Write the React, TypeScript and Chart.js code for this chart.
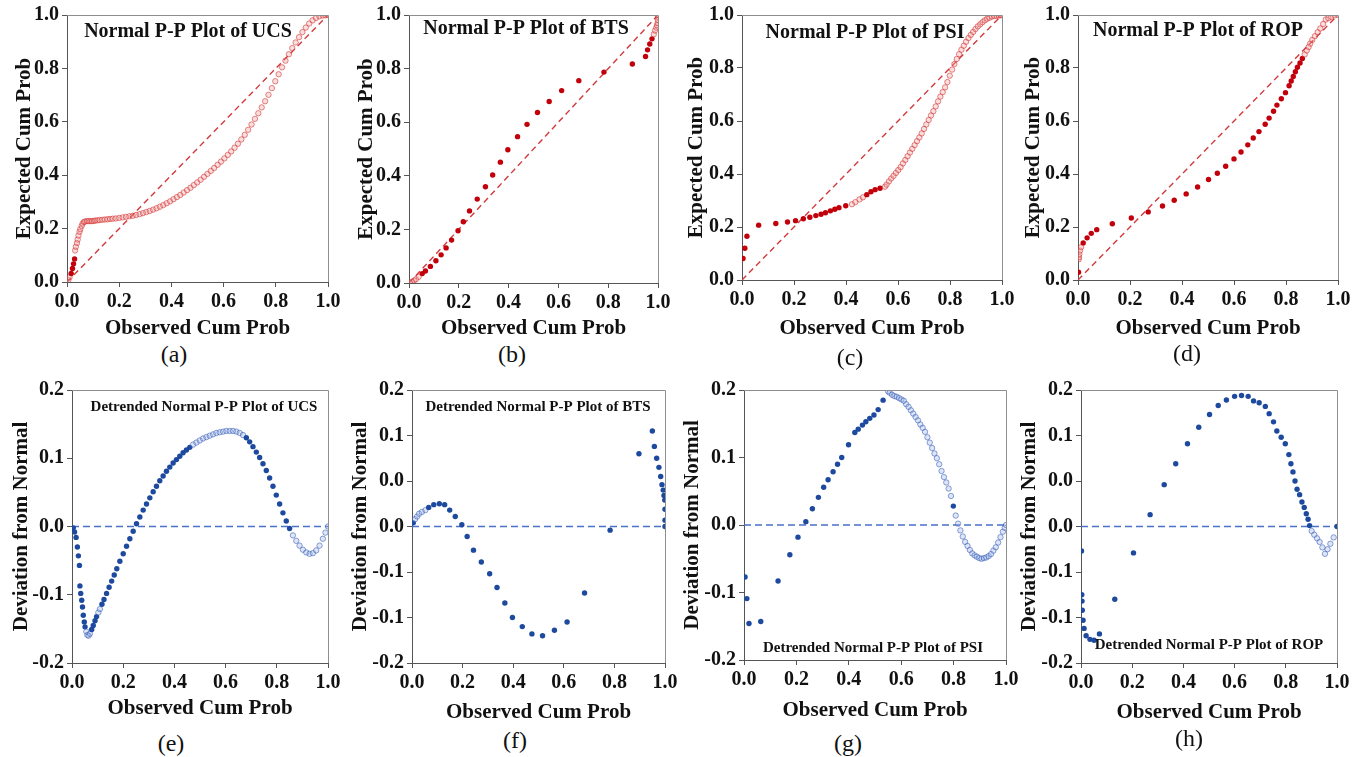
import React, { useEffect, useRef } from 'react';
import { Chart, registerables } from 'chart.js';

Chart.register(...registerables);

// ---------- tick labels ----------
const ppTickLabels = ['0.0', '0.2', '0.4', '0.6', '0.8', '1.0'];
const devTickLabels5 = ['-0.2', '-0.1', '0.0', '0.1', '0.2'];
const devTickLabels7 = ['-0.2', '-0.1', '-0.1', '0.0', '0.0', '0.1', '0.2'];

// ---------- reference lines ----------
const diagonalX = [0, 1];
const diagonalY = [0, 1];
const zeroLineX = [0, 1];
const zeroLineY = [0, 0];

// ---------- UCS ----------
const ucsObserved = [
  0.005, 0.01, 0.016, 0.021, 0.025, 0.029, 0.031, 0.034, 0.038, 0.041,
  0.044, 0.048, 0.051, 0.056, 0.06, 0.065, 0.07, 0.077, 0.083, 0.09,
  0.096, 0.103, 0.109, 0.117, 0.125, 0.135, 0.145, 0.155, 0.165, 0.175,
  0.187, 0.2, 0.213, 0.226, 0.239, 0.252, 0.265, 0.278, 0.291, 0.304,
  0.317, 0.33, 0.343, 0.356, 0.369, 0.382, 0.395, 0.408, 0.421, 0.434,
  0.447, 0.46, 0.473, 0.486, 0.499, 0.512, 0.525, 0.538, 0.551, 0.564,
  0.577, 0.59, 0.603, 0.616, 0.629, 0.642, 0.655, 0.668, 0.681, 0.694,
  0.707, 0.72, 0.733, 0.746, 0.759, 0.772, 0.785, 0.798, 0.811, 0.824,
  0.837, 0.85, 0.863, 0.876, 0.889, 0.902, 0.915, 0.928, 0.941, 0.954,
  0.967, 0.98, 0.99, 1.0,
];
const ucsExpected = [
  0.007, 0.018, 0.032, 0.051, 0.068, 0.086, 0.118, 0.132, 0.146, 0.159,
  0.174, 0.188, 0.198, 0.21, 0.219, 0.225, 0.227, 0.228, 0.228, 0.228,
  0.228, 0.229, 0.23, 0.231, 0.232, 0.233, 0.234, 0.235, 0.236, 0.237,
  0.238, 0.24, 0.242, 0.244, 0.246, 0.248, 0.251, 0.254, 0.258, 0.262,
  0.266, 0.271, 0.276, 0.282, 0.288, 0.295, 0.302, 0.31, 0.318, 0.326,
  0.335, 0.344, 0.353, 0.363, 0.373, 0.383, 0.394, 0.405, 0.416, 0.427,
  0.439, 0.451, 0.463, 0.476, 0.489, 0.503, 0.518, 0.534, 0.551, 0.57,
  0.59, 0.611, 0.632, 0.654, 0.677, 0.701, 0.726, 0.752, 0.778, 0.804,
  0.829, 0.853, 0.876, 0.897, 0.917, 0.936, 0.953, 0.968, 0.98, 0.989,
  0.995, 0.998, 0.999, 1.0,
];
const ucsDeviation = [
  -0.002, -0.008, -0.016, -0.03, -0.043, -0.057, -0.087, -0.098, -0.108, -0.118,
  -0.13, -0.14, -0.147, -0.154, -0.159, -0.16, -0.157, -0.151, -0.145, -0.138,
  -0.132, -0.126, -0.121, -0.114, -0.107, -0.098, -0.089, -0.08, -0.071, -0.062,
  -0.051, -0.04, -0.029, -0.018, -0.007, 0.004, 0.014, 0.024, 0.033, 0.042,
  0.051, 0.059, 0.067, 0.074, 0.081, 0.087, 0.093, 0.098, 0.103, 0.108,
  0.112, 0.116, 0.12, 0.123, 0.126, 0.129, 0.131, 0.133, 0.135, 0.137,
  0.138, 0.139, 0.14, 0.14, 0.14, 0.139, 0.137, 0.134, 0.13, 0.124,
  0.117, 0.109, 0.101, 0.092, 0.082, 0.071, 0.059, 0.046, 0.033, 0.02,
  0.008, -0.003, -0.013, -0.021, -0.028, -0.034, -0.038, -0.04, -0.039, -0.035,
  -0.028, -0.018, -0.009, 0.0,
];

// ---------- BTS ----------
const btsObserved = [
  0.005, 0.012, 0.02, 0.028, 0.039, 0.053, 0.066, 0.086, 0.108, 0.129,
  0.149, 0.171, 0.197, 0.218, 0.243, 0.274, 0.307, 0.336, 0.367, 0.397,
  0.436, 0.474, 0.516, 0.563, 0.613, 0.682, 0.783, 0.897, 0.95, 0.958,
  0.967, 0.976, 0.983, 0.988, 0.993, 0.996, 0.999, 1.0, 1.0, 1.0,
];
const btsExpected = [
  0.001, 0.004, 0.009, 0.014, 0.023, 0.035, 0.045, 0.062, 0.083, 0.105,
  0.131, 0.16, 0.195, 0.229, 0.269, 0.313, 0.359, 0.403, 0.451, 0.497,
  0.546, 0.592, 0.636, 0.677, 0.718, 0.755, 0.787, 0.817, 0.845, 0.87,
  0.892, 0.911, 0.928, 0.942, 0.953, 0.962, 0.97, 0.981, 0.993, 1.0,
];
const btsDeviation = [
  0.004, 0.008, 0.011, 0.014, 0.016, 0.018, 0.021, 0.024, 0.025, 0.024,
  0.018, 0.011, 0.002, -0.011, -0.026, -0.039, -0.052, -0.067, -0.084, -0.1,
  -0.11, -0.118, -0.12, -0.114, -0.105, -0.073, -0.004, 0.08, 0.105, 0.088,
  0.075, 0.065, 0.055, 0.046, 0.04, 0.034, 0.029, 0.019, 0.007, 0.0,
];

// ---------- PSI ----------
const psiObserved = [
  0.004, 0.011, 0.019, 0.064, 0.13, 0.175, 0.206, 0.236, 0.261, 0.284,
  0.304, 0.321, 0.34, 0.357, 0.373, 0.399, 0.423, 0.436, 0.452, 0.465,
  0.48, 0.496, 0.512, 0.531, 0.55, 0.556, 0.565, 0.574, 0.583, 0.592,
  0.601, 0.61, 0.619, 0.628, 0.637, 0.646, 0.655, 0.664, 0.673, 0.682,
  0.691, 0.7, 0.709, 0.718, 0.727, 0.736, 0.745, 0.754, 0.763, 0.772,
  0.781, 0.79, 0.799, 0.808, 0.817, 0.826, 0.835, 0.844, 0.853, 0.862,
  0.871, 0.88, 0.889, 0.898, 0.907, 0.916, 0.925, 0.934, 0.943, 0.952,
  0.961, 0.97, 0.979, 0.988, 0.995, 1.0,
];
const psiExpected = [
  0.081, 0.12, 0.165, 0.207, 0.213, 0.219, 0.224, 0.231, 0.237, 0.243,
  0.248, 0.254, 0.261, 0.267, 0.273, 0.28, 0.286, 0.294, 0.304, 0.312,
  0.322, 0.333, 0.341, 0.346, 0.352, 0.36, 0.372, 0.383, 0.393, 0.404,
  0.415, 0.426, 0.44, 0.453, 0.467, 0.481, 0.495, 0.509, 0.524, 0.538,
  0.553, 0.57, 0.587, 0.604, 0.621, 0.637, 0.655, 0.674, 0.692, 0.709,
  0.727, 0.747, 0.771, 0.794, 0.815, 0.834, 0.852, 0.869, 0.884, 0.899,
  0.913, 0.925, 0.936, 0.947, 0.957, 0.965, 0.973, 0.98, 0.986, 0.99,
  0.994, 0.996, 0.997, 0.998, 0.999, 1.0,
];
const psiDeviation = [
  -0.077, -0.109, -0.146, -0.143, -0.083, -0.044, -0.018, 0.005, 0.024, 0.041,
  0.056, 0.067, 0.079, 0.09, 0.1, 0.119, 0.137, 0.142, 0.148, 0.153,
  0.158, 0.163, 0.171, 0.185, 0.198, 0.196, 0.193, 0.191, 0.19, 0.188,
  0.186, 0.184, 0.179, 0.175, 0.17, 0.165, 0.16, 0.155, 0.149, 0.144,
  0.138, 0.13, 0.122, 0.114, 0.106, 0.099, 0.09, 0.08, 0.071, 0.063,
  0.054, 0.043, 0.028, 0.014, 0.002, -0.008, -0.017, -0.025, -0.031, -0.037,
  -0.042, -0.045, -0.047, -0.049, -0.05, -0.049, -0.048, -0.046, -0.043, -0.038,
  -0.033, -0.026, -0.018, -0.01, -0.004, 0.0,
];

// ---------- ROP ----------
const ropObserved = [
  0.002, 0.003, 0.004, 0.005, 0.008, 0.012, 0.02, 0.035, 0.051, 0.072,
  0.132, 0.205, 0.27, 0.325, 0.37, 0.416, 0.46, 0.502, 0.536, 0.568,
  0.6, 0.627, 0.653, 0.674, 0.696, 0.72, 0.735, 0.752, 0.765, 0.782,
  0.798, 0.812, 0.82, 0.828, 0.836, 0.844, 0.854, 0.863, 0.872, 0.88,
  0.887, 0.893, 0.901, 0.911, 0.922, 0.932, 0.943, 0.953, 0.963, 0.974,
  0.987, 1.0,
];
const ropExpected = [
  0.029, 0.078, 0.086, 0.097, 0.111, 0.124, 0.14, 0.159, 0.176, 0.19,
  0.212, 0.234, 0.257, 0.279, 0.301, 0.325, 0.351, 0.379, 0.403, 0.429,
  0.457, 0.483, 0.51, 0.536, 0.56, 0.588, 0.611, 0.637, 0.66, 0.684,
  0.707, 0.733, 0.751, 0.768, 0.786, 0.803, 0.819, 0.836, 0.851, 0.866,
  0.879, 0.892, 0.906, 0.92, 0.935, 0.949, 0.966, 0.983, 0.988, 0.993,
  0.999, 1.0,
];
const ropDeviation = [
  -0.027, -0.075, -0.082, -0.092, -0.103, -0.112, -0.12, -0.124, -0.125, -0.118,
  -0.08, -0.029, 0.013, 0.046, 0.069, 0.091, 0.109, 0.123, 0.133, 0.139,
  0.143, 0.144, 0.143, 0.138, 0.136, 0.132, 0.124, 0.115, 0.105, 0.098,
  0.091, 0.079, 0.069, 0.06, 0.05, 0.041, 0.035, 0.027, 0.021, 0.014,
  0.008, 0.001, -0.005, -0.009, -0.013, -0.017, -0.023, -0.03, -0.025, -0.019,
  -0.012, 0.0,
];

// ---------- panel layout (page pixels) ----------
type Panel = {
  kind: 'pp' | 'dev';
  observed: number[];
  values: number[];
  title: string;
  titleX: number;
  titleY: number;
  caption: string;
  capX: number;
  capY: number;
  left: number;
  top: number;
  width: number;
  height: number;
  yw: number;
  xh: number;
  padTop: number;
  yMin: number;
  yMax: number;
  yStep: number;
  yLabels: string[];
  paleFrom: number;
};

const PANELS: Panel[] = [
  { kind: 'pp', observed: ucsObserved, values: ucsExpected, title: 'Normal P-P Plot of UCS', titleX: 188, titleY: 32, caption: '(a)', capX: 174, capY: 354, left: 12, top: 0, width: 332, height: 341, yw: 55, xh: 59, padTop: 14, yMin: 0, yMax: 1, yStep: 0.2, yLabels: ppTickLabels, paleFrom: 0.06 },
  { kind: 'pp', observed: btsObserved, values: btsExpected, title: 'Normal P-P Plot of BTS', titleX: 526, titleY: 29, caption: '(b)', capX: 512, capY: 354, left: 354, top: 0, width: 320, height: 341, yw: 55, xh: 58, padTop: 12, yMin: 0, yMax: 1, yStep: 0.2, yLabels: ppTickLabels, paleFrom: 2 },
  { kind: 'pp', observed: psiObserved, values: psiExpected, title: 'Normal P-P Plot of PSI', titleX: 865, titleY: 33, caption: '(c)', capX: 850, capY: 357, left: 684, top: 0, width: 334, height: 341, yw: 58, xh: 61, padTop: 15, yMin: 0, yMax: 1, yStep: 0.2, yLabels: ppTickLabels, paleFrom: 0.545 },
  { kind: 'pp', observed: ropObserved, values: ropExpected, title: 'Normal P-P Plot of ROP', titleX: 1198, titleY: 31, caption: '(d)', capX: 1187, capY: 353, left: 1021, top: 0, width: 333, height: 341, yw: 57, xh: 61, padTop: 12, yMin: 0, yMax: 1, yStep: 0.2, yLabels: ppTickLabels, paleFrom: 0.87 },
  { kind: 'dev', observed: ucsObserved, values: ucsDeviation, title: 'Detrended Normal P-P Plot of UCS', titleX: 204, titleY: 407, caption: '(e)', capX: 171, capY: 743, left: 9, top: 375, width: 335, height: 346, yw: 63, xh: 58, padTop: 13, yMin: -0.2, yMax: 0.2, yStep: 0.1, yLabels: devTickLabels5, paleFrom: 0.86 },
  { kind: 'dev', observed: btsObserved, values: btsDeviation, title: 'Detrended Normal P-P Plot of BTS', titleX: 538, titleY: 407, caption: '(f)', capX: 515, capY: 740, left: 348, top: 375, width: 333, height: 350, yw: 64, xh: 62, padTop: 12, yMin: -0.15, yMax: 0.15, yStep: 0.05, yLabels: devTickLabels7, paleFrom: 2 },
  { kind: 'dev', observed: psiObserved, values: psiDeviation, title: 'Detrended Normal P-P Plot of PSI', titleX: 873, titleY: 648, caption: '(g)', capX: 848, capY: 743, left: 680, top: 375, width: 342, height: 348, yw: 64, xh: 63, padTop: 12, yMin: -0.2, yMax: 0.2, yStep: 0.1, yLabels: devTickLabels5, paleFrom: 0.545 },
  { kind: 'dev', observed: ropObserved, values: ropDeviation, title: 'Detrended Normal P-P Plot of ROP', titleX: 1209, titleY: 645, caption: '(h)', capX: 1189, capY: 738, left: 1017, top: 375, width: 336, height: 350, yw: 64, xh: 62, padTop: 13, yMin: -0.15, yMax: 0.15, yStep: 0.05, yLabels: devTickLabels7, paleFrom: 0.895 },
];

const SERIF = '"Liberation Serif", "Times New Roman", serif';
const PAD_RIGHT = 16;

const framePlugin = {
  id: 'frame',
  afterDatasetsDraw(chart: any) {
    const { ctx, chartArea: a } = chart;
    ctx.save();
    ctx.strokeStyle = '#8e8e8e';
    ctx.lineWidth = 1;
    ctx.beginPath();
    ctx.moveTo(Math.round(a.left), Math.round(a.top) + 0.5);
    ctx.lineTo(Math.round(a.right) + 0.5, Math.round(a.top) + 0.5);
    ctx.lineTo(Math.round(a.right) + 0.5, Math.round(a.bottom));
    ctx.stroke();
    ctx.restore();
  },
};

const inTitlePlugin = {
  id: 'inTitle',
  afterDraw(chart: any, _args: any, opts: any) {
    const { ctx } = chart;
    ctx.save();
    ctx.font = opts.font;
    ctx.fillStyle = '#111';
    ctx.textAlign = 'center';
    ctx.textBaseline = 'middle';
    ctx.fillText(opts.text, opts.x, opts.y);
    ctx.restore();
  },
};

function buildChart(canvas: HTMLCanvasElement, p: Panel) {
  const isPP = p.kind === 'pp';
  const solid = isPP ? '#c2000b' : '#1d4a9e';
  const paleFill = isPP ? 'rgba(240,160,160,0.35)' : 'rgba(160,180,232,0.35)';
  const paleEdge = isPP ? 'rgba(210,40,40,0.55)' : 'rgba(50,90,180,0.55)';
  const lineColor = isPP ? '#d13a3c' : '#4a72c8';

  const points = p.observed.map((x, i) => ({ x, y: p.values[i] }));
  const refX = isPP ? diagonalX : zeroLineX;
  const refY = isPP ? diagonalY : zeroLineY;
  const refLine = refX.map((x, i) => ({ x, y: refY[i] }));

  // points packed tightly together are drawn as faint open markers (as SPSS overplotting looks)
  const isDense = (ctx: any) => {
    if (ctx.type !== 'data') return false;
    const area = ctx.chart.chartArea;
    if (!area) return false;
    const data = ctx.dataset.data;
    const i = ctx.dataIndex;
    const sx = area.right - area.left;
    const sy = (area.bottom - area.top) / (p.yMax - p.yMin);
    let m = Infinity;
    for (const j of [i - 1, i + 1]) {
      if (j < 0 || j >= data.length) continue;
      const dx = (data[j].x - data[i].x) * sx;
      const dy = (data[j].y - data[i].y) * sy;
      m = Math.min(m, Math.hypot(dx, dy));
    }
    if (m < 4) return true;
    return data[i].x >= p.paleFrom && m < 9;
  };

  const tickFont = { family: SERIF, size: 20, weight: 'bold' as const };
  const titleFont = { family: SERIF, size: 21, weight: 'bold' as const, lineHeight: 1.2 };

  return new Chart(canvas, {
    type: 'scatter',
    data: {
      datasets: [
        {
          type: 'line',
          data: refLine,
          borderColor: lineColor,
          borderWidth: 1.4,
          borderDash: isPP ? [6, 4] : [7, 4],
          pointRadius: 0,
          fill: false,
          order: 2,
        } as any,
        {
          data: points,
          pointRadius: 2.7,
          pointBorderWidth: (c: any) => (isDense(c) ? 1 : 0),
          pointBackgroundColor: (c: any) => (isDense(c) ? paleFill : solid),
          pointBorderColor: (c: any) => (isDense(c) ? paleEdge : solid),
          order: 1,
        } as any,
      ],
    },
    options: {
      animation: false,
      responsive: false,
      devicePixelRatio: 1,
      layout: { padding: { top: p.padTop, right: PAD_RIGHT, left: 0, bottom: 0 } },
      plugins: {
        legend: { display: false },
        tooltip: { enabled: false },
        inTitle: {
          text: p.title,
          x: p.titleX - p.left,
          y: p.titleY - p.top,
          font: isPP ? `bold 20px ${SERIF}` : `bold 15px ${SERIF}`,
        },
      } as any,
      scales: {
        x: {
          type: 'linear',
          min: 0,
          max: 1,
          afterFit: (s: any) => {
            s.height = p.xh;
          },
          ticks: {
            stepSize: 0.2,
            autoSkip: false,
            maxRotation: 0,
            padding: 3,
            color: '#111',
            font: tickFont,
            callback: (v: any) => ppTickLabels[Math.round(Number(v) / 0.2)] ?? '',
          },
          grid: { display: true, drawOnChartArea: false, drawTicks: true, tickLength: 5, color: '#555' },
          border: { display: true, color: '#555' },
          title: { display: true, text: 'Observed Cum Prob', color: '#111', font: titleFont, padding: { top: 0, bottom: 0 } },
        },
        y: {
          type: 'linear',
          min: p.yMin,
          max: p.yMax,
          afterFit: (s: any) => {
            s.width = p.yw;
          },
          ticks: {
            stepSize: p.yStep,
            autoSkip: false,
            padding: 3,
            color: '#111',
            font: tickFont,
            callback: (v: any) => p.yLabels[Math.round((Number(v) - p.yMin) / p.yStep)] ?? '',
          },
          grid: { display: true, drawOnChartArea: false, drawTicks: true, tickLength: 5, color: '#555' },
          border: { display: true, color: '#555' },
          title: {
            display: true,
            text: isPP ? 'Expected Cum Prob' : 'Deviation from Normal',
            color: '#111',
            font: titleFont,
            padding: { top: 0, bottom: 0 },
          },
        },
      },
    } as any,
    plugins: [framePlugin, inTitlePlugin] as any,
  });
}

function PanelChart({ p }: { p: Panel }) {
  const ref = useRef<HTMLCanvasElement | null>(null);
  useEffect(() => {
    if (!ref.current) return;
    const chart = buildChart(ref.current, p);
    return () => chart.destroy();
  }, [p]);
  return (
    <canvas
      ref={ref}
      width={p.width}
      height={p.height}
      style={{ position: 'absolute', left: p.left, top: p.top, width: p.width, height: p.height }}
    />
  );
}

export default function App() {
  return (
    <div style={{ position: 'absolute', left: 0, top: 0, width: 1365, height: 757, background: '#fff', overflow: 'hidden' }}>
      {PANELS.map((p, i) => (
        <PanelChart key={i} p={p} />
      ))}
      {PANELS.map((p, i) => (
        <div
          key={'c' + i}
          style={{
            position: 'absolute',
            left: p.capX,
            top: p.capY - 13,
            transform: 'translateX(-50%)',
            fontFamily: SERIF,
            fontSize: 24,
            lineHeight: '26px',
            color: '#111',
            whiteSpace: 'nowrap',
          }}
        >
          {p.caption}
        </div>
      ))}
    </div>
  );
}
